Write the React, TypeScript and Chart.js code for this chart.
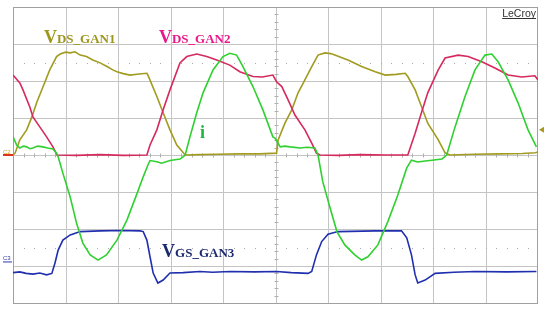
import React, { useEffect, useRef } from "react";
import { Chart, registerables } from "chart.js";

Chart.register(...registerables);

// Horizontal: divisions (0..10), vertical: divisions (-4..4)
const xDivisions = [0, 10];
const yDivisions = [-4, 4];

const vdsGan1: [number, number][] = [
  [0, 0], [0.04, 0.05], [0.13, 0.41], [0.26, 0.68], [0.36, 1.03], [0.45, 1.41], [0.57, 1.84],
  [0.7, 2.3], [0.83, 2.66], [0.9, 2.73], [1.0, 2.78], [1.09, 2.76], [1.18, 2.79], [1.28, 2.7],
  [1.4, 2.66], [1.52, 2.57], [1.66, 2.49], [1.79, 2.39], [1.9, 2.3], [1.98, 2.25], [2.1, 2.2],
  [2.23, 2.16], [2.4, 2.19], [2.55, 2.21], [2.57, 2.16], [2.74, 1.58], [2.86, 1.14], [2.99, 0.68],
  [3.12, 0.27], [3.28, 0], [3.56, 0.01], [3.9, 0.02], [4.32, 0.03], [4.7, 0.03], [5.02, 0.05],
  [5.05, 0.41], [5.18, 0.86], [5.31, 1.22], [5.43, 1.68], [5.56, 2.03], [5.69, 2.39], [5.81, 2.7],
  [5.94, 2.76], [6.05, 2.74], [6.13, 2.7], [6.38, 2.57], [6.64, 2.39], [6.9, 2.25], [7.09, 2.16],
  [7.3, 2.18], [7.47, 2.21], [7.52, 2.12], [7.66, 1.76], [7.78, 1.31], [7.9, 0.86], [8.1, 0.41],
  [8.23, 0.06], [8.32, 0], [8.8, 0.02], [9.28, 0.03], [9.7, 0.04], [9.95, 0.06], [10, 0.08],
];

const vdsGan2: [number, number][] = [
  [0, 2.16], [0.13, 1.95], [0.19, 1.76], [0.32, 1.3], [0.38, 1.03], [0.51, 0.76], [0.64, 0.49],
  [0.76, 0.22], [0.84, 0], [1.2, -0.01], [1.66, 0.01], [2.1, -0.01], [2.55, 0], [2.61, 0.27],
  [2.74, 0.68], [2.86, 1.22], [2.99, 1.76], [3.18, 2.49], [3.31, 2.66], [3.5, 2.73], [3.69, 2.66],
  [3.88, 2.57], [4.13, 2.43], [4.32, 2.25], [4.57, 2.12], [4.75, 2.11], [4.95, 2.16], [5.02, 1.98],
  [5.12, 1.85], [5.24, 1.49], [5.37, 1.08], [5.56, 0.68], [5.69, 0.32], [5.78, 0.05], [5.85, 0],
  [6.2, -0.01], [6.61, 0.01], [7.1, 0], [7.52, 0], [7.66, 0.59], [7.78, 1.14], [7.9, 1.68],
  [8.1, 2.3], [8.23, 2.62], [8.48, 2.7], [8.67, 2.66], [8.93, 2.52], [9.18, 2.35], [9.43, 2.16],
  [9.69, 2.11], [9.94, 2.14], [10, 2.03],
];

const currentI: [number, number][] = [
  [0, 0.49], [0.07, 0.27], [0.13, 0.19], [0.2, 0.24], [0.26, 0.22], [0.32, 0.17], [0.38, 0.19],
  [0.47, 0.24], [0.57, 0.22], [0.66, 0.19], [0.76, 0.16], [0.83, 0.05], [0.86, -0.05],
  [0.95, -0.49], [1.09, -1.14], [1.21, -1.84], [1.33, -2.38], [1.47, -2.7], [1.62, -2.84],
  [1.78, -2.7], [1.98, -2.3], [2.17, -1.76], [2.36, -1.05], [2.48, -0.59], [2.57, -0.27],
  [2.61, -0.15], [2.74, -0.18], [2.83, -0.22], [2.99, -0.15], [3.18, -0.11], [3.24, -0.05],
  [3.28, 0], [3.37, 0.49], [3.5, 1.14], [3.62, 1.68], [3.81, 2.3], [4.0, 2.66], [4.13, 2.75],
  [4.26, 2.7], [4.38, 2.39], [4.57, 1.85], [4.76, 1.22], [4.95, 0.49], [4.99, 0.46],
  [5.09, 0.22], [5.18, 0.24], [5.28, 0.22], [5.47, 0.19], [5.6, 0.21], [5.75, 0.19], [5.81, 0],
  [5.9, -0.72], [6.04, -1.43], [6.17, -2.07], [6.32, -2.43], [6.51, -2.7], [6.64, -2.84],
  [6.76, -2.75], [6.95, -2.43], [7.14, -1.8], [7.33, -1.08], [7.5, -0.35], [7.59, -0.14],
  [7.71, -0.19], [7.85, -0.16], [7.98, -0.14], [8.17, -0.11], [8.26, 0], [8.42, 0.76],
  [8.61, 1.58], [8.8, 2.3], [8.99, 2.7], [9.12, 2.73], [9.24, 2.52], [9.43, 2.03], [9.62, 1.41],
  [9.81, 0.68], [9.97, 0.22],
];

const vgsGan3: [number, number][] = [
  [0, -3.18], [0.13, -3.16], [0.25, -3.2], [0.38, -3.22], [0.51, -3.19], [0.64, -3.24],
  [0.74, -3.2], [0.8, -2.92], [0.86, -2.57], [0.95, -2.3], [1.09, -2.16], [1.28, -2.07],
  [1.66, -2.05], [2.04, -2.04], [2.42, -2.05], [2.48, -2.07], [2.55, -2.3], [2.61, -2.75],
  [2.67, -3.19], [2.76, -3.46], [2.86, -3.38], [2.99, -3.19], [3.24, -3.18], [3.56, -3.15],
  [3.8, -3.17], [4.13, -3.15], [4.6, -3.16], [5.02, -3.15], [5.3, -3.18], [5.62, -3.2],
  [5.69, -3.15], [5.78, -2.7], [5.88, -2.34], [6.0, -2.14], [6.19, -2.07], [6.9, -2.05],
  [7.4, -2.05], [7.5, -2.24], [7.59, -2.7], [7.66, -3.24], [7.71, -3.46], [7.85, -3.38],
  [8.04, -3.2], [8.4, -3.17], [8.8, -3.15], [9.4, -3.16], [9.97, -3.15],
];

const seriesLabels = ["VDS_GAN1", "VDS_GAN2", "i", "VGS_GAN3"];
const seriesColors = ["#a19b1f", "#d42a5e", "#2fd02f", "#1f2fae"];

const toPts = (a: [number, number][]) => a.map(([x, y]) => ({ x, y }));

const scopePlugin = {
  id: "scope",
  beforeDatasetsDraw(chart: any) {
    const { ctx, chartArea: a, scales } = chart;
    const xs = scales.x, ys = scales.y;
    ctx.save();
    ctx.strokeStyle = "#c4c4c4";
    ctx.lineWidth = 1;
    for (let i = xDivisions[0] + 1; i < xDivisions[1]; i++) {
      const px = Math.round(xs.getPixelForValue(i)) + 0.5;
      ctx.beginPath(); ctx.moveTo(px, a.top); ctx.lineTo(px, a.bottom); ctx.stroke();
    }
    for (let j = yDivisions[0] + 1; j < yDivisions[1]; j++) {
      const py = Math.round(ys.getPixelForValue(j)) + 0.5;
      ctx.beginPath(); ctx.moveTo(a.left, py); ctx.lineTo(a.right, py); ctx.stroke();
    }
    // minor ticks on centre lines
    ctx.strokeStyle = "#b0b0b0";
    const cx = Math.round(xs.getPixelForValue(5)) + 0.5;
    const cy = Math.round(ys.getPixelForValue(0)) + 0.5;
    for (let k = 1; k < 50; k++) {
      if (k % 5 === 0) continue;
      const px = Math.round(xs.getPixelForValue(k * 0.2)) + 0.5;
      ctx.beginPath(); ctx.moveTo(px, cy - 2); ctx.lineTo(px, cy + 2); ctx.stroke();
    }
    for (let k = 1; k < 40; k++) {
      if (k % 5 === 0) continue;
      const py = Math.round(ys.getPixelForValue(-4 + k * 0.2)) + 0.5;
      ctx.beginPath(); ctx.moveTo(cx - 2, py); ctx.lineTo(cx + 2, py); ctx.stroke();
    }
    // dotted reference levels
    ctx.fillStyle = "#aaaaaa";
    [2.5, -2.5].forEach((lv) => {
      const py = Math.round(ys.getPixelForValue(lv));
      for (let k = 1; k < 50; k++) {
        const px = Math.round(xs.getPixelForValue(k * 0.2));
        ctx.fillRect(px, py, 1, 1);
      }
    });
    // frame
    ctx.strokeStyle = "#a0a0a0";
    ctx.strokeRect(a.left + 0.5, a.top + 0.5, a.right - a.left - 1, a.bottom - a.top);
    ctx.restore();
  },
  afterDatasetsDraw(chart: any) {
    const { ctx, chartArea: a, scales } = chart;
    const xs = scales.x, ys = scales.y;
    ctx.save();
    const drawLabel = (big: string, small: string, x: number, y: number, color: string) => {
      ctx.fillStyle = color;
      ctx.textBaseline = "alphabetic";
      ctx.textAlign = "left";
      ctx.font = "bold 18px 'Liberation Serif'";
      ctx.fillText(big, x, y);
      const w = ctx.measureText(big).width;
      ctx.font = "bold 13px 'Liberation Serif'";
      ctx.fillText(small, x + w, y);
    };
    drawLabel("V", "DS_GAN1", xs.getPixelForValue(0.59), ys.getPixelForValue(3.04), "#9c961c");
    drawLabel("V", "DS_GAN2", xs.getPixelForValue(2.78), ys.getPixelForValue(3.04), "#e8178a");
    drawLabel("i", "", xs.getPixelForValue(3.56), ys.getPixelForValue(0.46), "#22b43c");
    drawLabel("V", "GS_GAN3", xs.getPixelForValue(2.84), ys.getPixelForValue(-2.76), "#1b2a6e");
    // LeCroy
    ctx.fillStyle = "#333333";
    ctx.font = "10.5px 'Liberation Sans'";
    ctx.textAlign = "right";
    const rx = a.right - 2;
    ctx.fillText("LeCroy", rx, 17);
    const lw = ctx.measureText("LeCroy").width;
    ctx.fillRect(rx - lw, 18, lw, 1);
    // channel markers
    const c2y = ys.getPixelForValue(0);
    ctx.textAlign = "left";
    ctx.font = "6px 'Liberation Sans'";
    ctx.fillStyle = "#c8a020";
    ctx.fillText("C2", 3, c2y - 1);
    ctx.fillStyle = "#e03020";
    ctx.fillRect(3, c2y - 1, 10, 2);
    const c3y = ys.getPixelForValue(-2.85);
    ctx.fillStyle = "#2a3aa8";
    ctx.fillText("C3", 3, c3y);
    ctx.fillRect(3, c3y + 1, 9, 1);
    // right trigger marker
    const ty = ys.getPixelForValue(0.68);
    ctx.fillStyle = "#a89a20";
    ctx.beginPath();
    ctx.moveTo(a.right + 1, ty);
    ctx.lineTo(a.right + 6, ty - 3);
    ctx.lineTo(a.right + 6, ty + 3);
    ctx.closePath();
    ctx.fill();
    ctx.restore();
  },
};

export default function App() {
  const ref = useRef<HTMLCanvasElement | null>(null);
  useEffect(() => {
    if (!ref.current) return;
    const chart = new Chart(ref.current, {
      type: "line",
      data: {
        datasets: [
          { label: seriesLabels[2], data: toPts(currentI), borderColor: seriesColors[2] },
          { label: seriesLabels[1], data: toPts(vdsGan2), borderColor: seriesColors[1] },
          { label: seriesLabels[0], data: toPts(vdsGan1), borderColor: seriesColors[0] },
          { label: seriesLabels[3], data: toPts(vgsGan3), borderColor: seriesColors[3] },
        ].map((d) => ({ ...d, borderWidth: 1.6, pointRadius: 0, tension: 0, fill: false })),
      },
      options: {
        animation: false,
        responsive: false,
        layout: { padding: { left: 13, right: 12, top: 7, bottom: 7 } },
        plugins: { legend: { display: false }, tooltip: { enabled: false } },
        scales: {
          x: { type: "linear", min: xDivisions[0], max: xDivisions[1], display: false },
          y: { type: "linear", min: yDivisions[0], max: yDivisions[1], display: false },
        },
      },
      plugins: [scopePlugin],
    });
    return () => chart.destroy();
  }, []);
  return (
    <div style={{ position: "absolute", left: 0, top: 0, width: 550, height: 310, background: "#fff" }}>
      <canvas ref={ref} width={550} height={310} />
    </div>
  );
}
